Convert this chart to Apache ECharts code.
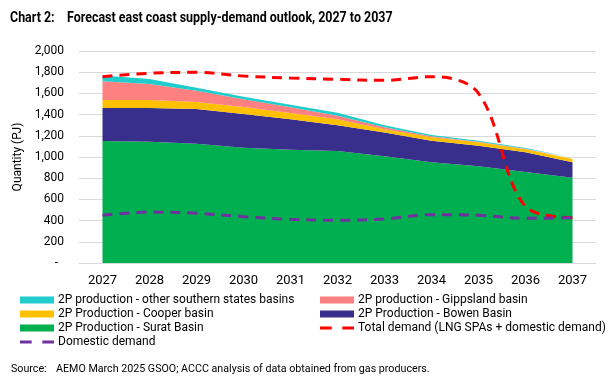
<!DOCTYPE html>
<html>
<head>
<meta charset="utf-8">
<script src="https://cdn.jsdelivr.net/npm/echarts@6/dist/echarts.min.js"></script>
<style>
  html, body { margin: 0; padding: 0; background: #fff; }
  #chart { width: 616px; height: 376px; }
</style>
</head>
<body>
<div id="chart"></div>
<script>
const years = ["2027", "2028", "2029", "2030", "2031", "2032", "2033", "2034", "2035", "2036", "2037"];

// stacked supply, bottom to top (PJ)
const surat = [1150, 1145, 1126, 1088, 1069, 1057, 1006, 950, 912, 858, 805];
const bowen = [312, 317, 327, 318, 287, 242, 224, 204, 195, 186, 145];
const cooper = [76, 76, 66, 66, 59, 57, 31, 32, 32, 28, 31];
const gippsland = [176, 151, 107, 72, 54, 34, 19, 9, 6, 6, 4];
const otherSouthern = [56, 47, 28, 25, 25, 28, 19, 13, 9, 7, 9];

// demand lines (PJ)
const totalDemand = [1758, 1790, 1799, 1764, 1745, 1733, 1723, 1758, 1601, 531, 428];
const domesticDemand = [450, 481, 469, 437, 412, 403, 415, 456, 450, 421, 428];

const names = {
  other: "2P production - other southern states basins",
  gipps: "2P production - Gippsland basin",
  cooper: "2P Production - Cooper basin",
  bowen: "2P Production - Bowen Basin",
  surat: "2P Production - Surat Basin",
  total: "Total demand (LNG SPAs + domestic demand)",
  domestic: "Domestic demand"
};

const font = "Roboto, 'Liberation Sans', sans-serif";
const dashIcon = "path://M0,0h11v3h-11z M21,0h11v3h-11z";

const chart = echarts.init(document.getElementById("chart"));

function area(name, data, color) {
  return {
    name: name,
    type: "line",
    stack: "supply",
    data: data,
    symbol: "none",
    lineStyle: {width: 0},
    areaStyle: {color: color, opacity: 1},
    itemStyle: {color: color},
    emphasis: {disabled: true}
  };
}

function dashed(name, data, color) {
  return {
    name: name,
    type: "line",
    data: data,
    smooth: 0.35,
    symbol: "none",
    z: 5,
    lineStyle: {color: color, width: 3, type: [10, 7]},
    itemStyle: {color: color},
    emphasis: {disabled: true}
  };
}

const legendBase = {
  orient: "vertical",
  top: 293,
  padding: 0,
  itemWidth: 34,
  itemHeight: 7,
  itemGap: 0,
  selectedMode: false,
  textStyle: {fontFamily: font, fontSize: 12, color: "#000", lineHeight: 14, padding: [0, 0, 0, -1]}
};

function titleText(text, x, y, size) {
  return {
    type: "text",
    left: x,
    top: y,
    scaleX: 0.83,
    style: {text: text, fontFamily: font, fontSize: size, fontWeight: "bold", fill: "#000"}
  };
}

const option = {
  animation: false,
  graphic: [
    titleText("Chart 2:", 10, 11, 15),
    titleText("Forecast east coast supply-demand outlook, 2027 to 2037", 67, 11, 15)
  ],
  title: [
    {text: "Source:", left: 11, top: 364, padding: 0, textStyle: {fontFamily: font, fontSize: 10.7, fontWeight: "normal", color: "#000"}},
    {text: "AEMO March 2025 GSOO; ACCC analysis of data obtained from gas producers.", left: 56, top: 364, padding: 0, textStyle: {fontFamily: font, fontSize: 10.7, fontWeight: "normal", color: "#000"}}
  ],
  legend: [
    Object.assign({}, legendBase, {
      left: 20,
      data: [
        {name: names.other, icon: "rect"},
        {name: names.cooper, icon: "rect"},
        {name: names.surat, icon: "rect"},
        {name: names.domestic, icon: dashIcon, itemStyle: {color: "#7030A0"}}
      ]
    }),
    Object.assign({}, legendBase, {
      left: 320,
      data: [
        {name: names.gipps, icon: "rect"},
        {name: names.bowen, icon: "rect"},
        {name: names.total, icon: dashIcon, itemStyle: {color: "#FF0000"}}
      ]
    })
  ],
  grid: {left: 79, right: 20, top: 51, bottom: 113},
  xAxis: {
    type: "category",
    data: years,
    boundaryGap: true,
    axisTick: {show: false},
    axisLine: {lineStyle: {color: "#D9D9D9", width: 1}},
    axisLabel: {fontFamily: font, fontSize: 13, color: "#000", margin: 11}
  },
  yAxis: {
    type: "value",
    min: 0,
    max: 2000,
    interval: 200,
    name: "Quantity (PJ)",
    nameLocation: "middle",
    nameGap: 47,
    nameTextStyle: {fontFamily: font, fontSize: 12, color: "#000"},
    axisLine: {show: false},
    axisTick: {show: false},
    splitLine: {lineStyle: {color: "#D9D9D9", width: 1}},
    axisLabel: {
      fontFamily: font,
      fontSize: 12,
      color: "#000",
      margin: 15,
      formatter: function (v) {
        return v === 0 ? "-  " : v.toLocaleString("en-US");
      }
    }
  },
  series: [
    area(names.surat, surat, "#00B050"),
    area(names.bowen, bowen, "#372F8B"),
    area(names.cooper, cooper, "#FFC000"),
    area(names.gipps, gippsland, "#FF8080"),
    area(names.other, otherSouthern, "#21CCCC"),
    dashed(names.total, totalDemand, "#FF0000"),
    dashed(names.domestic, domesticDemand, "#7030A0")
  ]
};

chart.setOption(option);
</script>
</body>
</html>
